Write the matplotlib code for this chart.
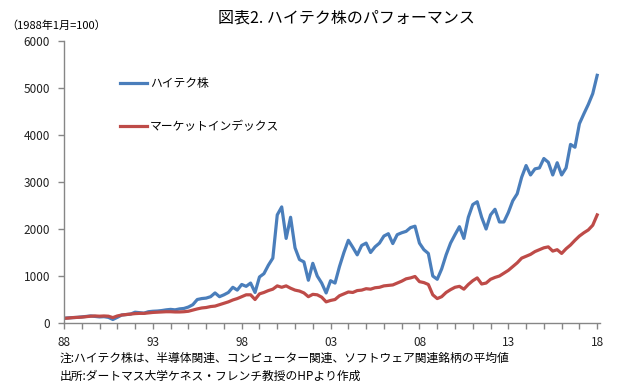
import numpy as np
import matplotlib
matplotlib.use("Agg")
import matplotlib.pyplot as plt
from matplotlib.ticker import MultipleLocator, FixedLocator, FuncFormatter

plt.rcParams['font.family'] = ['Noto Sans CJK JP', 'DejaVu Sans']

# 四半期ごとの読み取り値 (1988年1月=100)
years = np.arange(1988, 2018.01, 0.25)

hightech = [
    100, 110, 115, 120, 130, 140, 150, 140,      # 1988-89
    130, 135, 120, 75, 120, 170, 180, 190,       # 1990-91
    230, 220, 210, 240, 250, 255, 265, 280,      # 1992-93
    290, 280, 300, 310, 340, 390, 500, 520,      # 1994-95
    530, 560, 640, 560, 600, 650, 760, 700,      # 1996-97
    820, 780, 850, 650, 980, 1050, 1230, 1380,   # 1998-99
    2300, 2470, 1800, 2250, 1600, 1350, 1300, 910,  # 2000-01
    1270, 1000, 850, 640, 900, 850, 1200, 1500,  # 2002-03
    1760, 1610, 1450, 1650, 1700, 1500, 1620, 1700,  # 2004-05
    1850, 1900, 1690, 1880, 1920, 1950, 2030, 2060,  # 2006-07
    1700, 1560, 1480, 1000, 930, 1150, 1450, 1700,   # 2008-09
    1880, 2050, 1800, 2250, 2520, 2580, 2250, 2000,  # 2010-11
    2300, 2420, 2150, 2150, 2350, 2600, 2750, 3100,  # 2012-13
    3350, 3150, 3280, 3300, 3500, 3420, 3150, 3410,  # 2014-15
    3150, 3300, 3800, 3740, 4240, 4450, 4650, 4880,  # 2016-17
    5270,
]

market = [
    100, 105, 115, 120, 125, 135, 145, 150,
    145, 150, 145, 115, 150, 170, 180, 190,
    200, 205, 205, 215, 225, 230, 235, 240,
    240, 235, 235, 240, 250, 275, 300, 320,
    330, 350, 360, 390, 420, 450, 490, 520,
    560, 600, 600, 500, 620, 650, 690, 720,
    790, 760, 790, 740, 700, 680, 640, 560,
    610, 600, 550, 450, 480, 500, 580, 620,
    660, 650, 690, 700, 730, 720, 750, 760,
    790, 800, 810, 850, 890, 940, 960, 990,
    880, 860, 820, 600, 520, 560, 650, 710,
    760, 780, 720, 820, 900, 960, 830, 850,
    930, 970, 1000, 1060, 1120, 1200, 1280, 1380,
    1420, 1460, 1520, 1560, 1600, 1620, 1530, 1560,
    1480, 1580, 1660, 1760, 1850, 1920, 1980, 2080,
    2300,
]

label_years = [1988, 1993, 1998, 2003, 2008, 2013, 2018]
labels = ['ハイテク株', 'マーケットインデックス']
colors = ['#4a7ebb', '#be4b48']

fig = plt.figure(figsize=(6.41, 3.88), dpi=100)
ax = fig.add_axes([0.0998, 0.1675, 0.836, 0.7268])

ax.plot(years, hightech, color=colors[0], lw=2.3, label=labels[0])
ax.plot(years, market, color=colors[1], lw=2.3, label=labels[1])

ax.set_xlim(1988, 2018.15)
ax.set_ylim(0, 6000)
ax.yaxis.set_major_locator(MultipleLocator(1000))
ax.xaxis.set_major_locator(FixedLocator(label_years))
ax.xaxis.set_minor_locator(MultipleLocator(1))
ax.xaxis.set_major_formatter(FuncFormatter(lambda v, p: '%02d' % (int(round(v)) % 100)))

for s in ['top', 'right']:
    ax.spines[s].set_visible(False)
for s in ['left', 'bottom']:
    ax.spines[s].set_color('#868686')
    ax.spines[s].set_linewidth(1.0)

ax.tick_params(axis='both', which='both', direction='out', length=4, width=1,
               color='#868686', labelsize=8.5, labelcolor='#222222')
ax.tick_params(axis='x', pad=5)
ax.tick_params(axis='y', pad=6)

leg = ax.legend(loc='upper left', bbox_to_anchor=(0.095, 0.89), frameon=False,
                fontsize=8.5, handlelength=2.3, handletextpad=0.25,
                labelspacing=2.55, borderaxespad=0)

fig.text(0.54, 0.953, '図表2. ハイテク株のパフォーマンス', ha='center', va='center',
         fontsize=11.5)
fig.text(0.01, 0.935, '（1988年1月=100）', ha='left', va='center', fontsize=8)
fig.text(0.093, 0.077, '注:ハイテク株は、半導体関連、コンピューター関連、ソフトウェア関連銘柄の平均値',
         ha='left', va='center', fontsize=8.5)
fig.text(0.093, 0.029, '出所:ダートマス大学ケネス・フレンチ教授のHPより作成',
         ha='left', va='center', fontsize=8.5)

fig.savefig('out.png', dpi=100)
